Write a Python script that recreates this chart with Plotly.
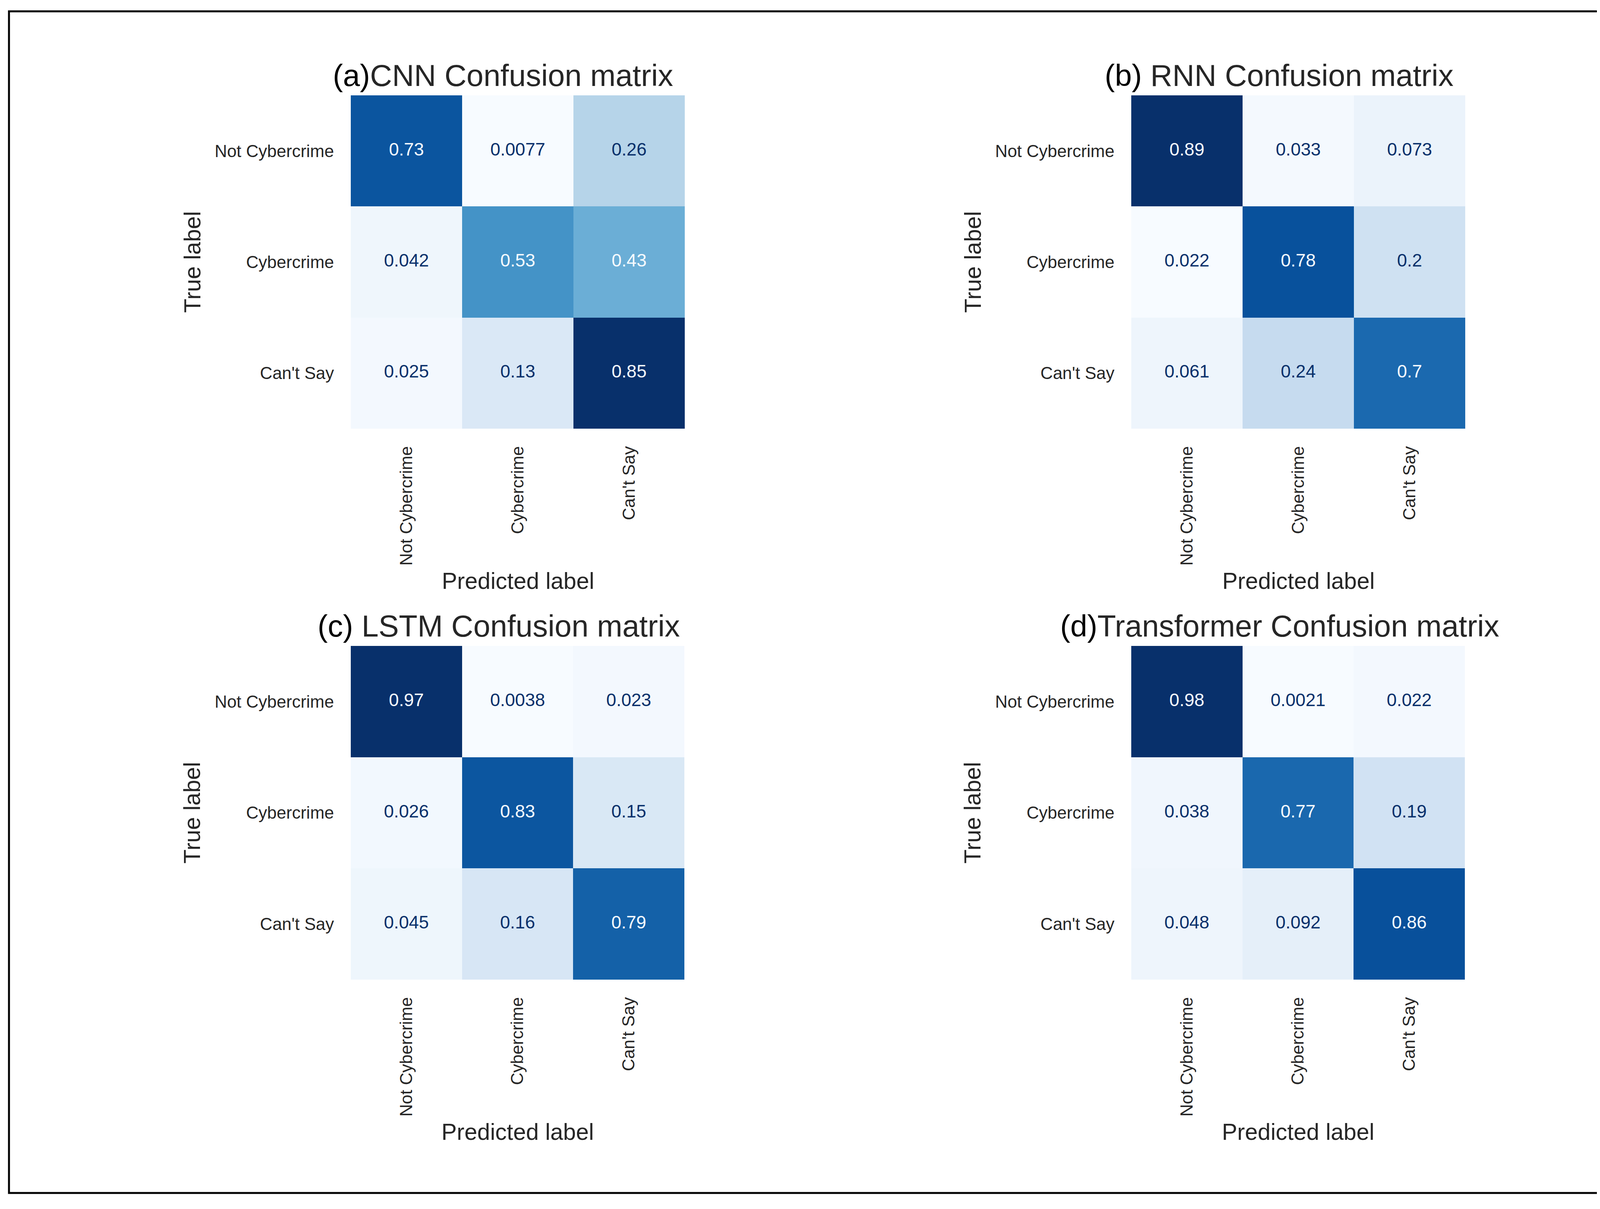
import plotly.graph_objects as go

W, H = 4325, 3094
OFFSET = 8  # page body margin
FONT = "Liberation Sans, Arial, sans-serif"
TEXT_GRAY = "#262626"

# ---------------- data ----------------
labels = ["Not Cybercrime", "Cybercrime", "Can't Say"]
prefixes = ["(a)", "(b) ", "(c) ", "(d)"]
titles = ["CNN Confusion matrix", "RNN Confusion matrix",
          "LSTM Confusion matrix", "Transformer Confusion matrix"]
cnn = [[0.73, 0.0077, 0.26],
       [0.042, 0.53, 0.43],
       [0.025, 0.13, 0.85]]
rnn = [[0.89, 0.033, 0.073],
       [0.022, 0.78, 0.2],
       [0.061, 0.24, 0.7]]
lstm = [[0.97, 0.0038, 0.023],
        [0.026, 0.83, 0.15],
        [0.045, 0.16, 0.79]]
transformer = [[0.98, 0.0021, 0.022],
               [0.038, 0.77, 0.19],
               [0.048, 0.092, 0.86]]
x_title = "Predicted label"
y_title = "True label"

matrices = [cnn, rnn, lstm, transformer]

# matplotlib / ColorBrewer "Blues"
blues = ["#f7fbff", "#deebf7", "#c6dbef", "#9ecae1", "#6baed6",
         "#4292c6", "#2171b5", "#08519c", "#08306b"]
colorscale = [[i / (len(blues) - 1), c] for i, c in enumerate(blues)]

# ---------------- layout geometry (pixels) ----------------
# heatmap boxes: (left, right, top, bottom), title centre x
boxes = [(898, 1753, 244, 1097), (2896, 3751, 244, 1097),
         (898, 1752, 1653, 2507), (2896, 3750, 1653, 2507)]
title_cx = [1287, 3274, 1277, 3276]


def px_x(v):
    return (v - OFFSET) / W


def px_y(v):
    return 1 - (v - OFFSET) / H


fig = go.Figure()
annotations = []

for i, (mat, box) in enumerate(zip(matrices, boxes)):
    n = "" if i == 0 else str(i + 1)
    xa, ya = "x" + n, "y" + n
    flat = [v for row in mat for v in row]
    zmin, zmax = min(flat), max(flat)
    thresh = (zmin + zmax) / 2

    fig.add_trace(go.Heatmap(
        z=mat, x=labels, y=labels, colorscale=colorscale,
        zmin=zmin, zmax=zmax, showscale=False, xaxis=xa, yaxis=ya,
        hoverinfo="skip"))

    tx, ty, tt, tc = [], [], [], []
    for r, row in enumerate(mat):
        for c, v in enumerate(row):
            tx.append(labels[c])
            ty.append(labels[r])
            tt.append(format(v, ".2g"))
            tc.append(blues[0] if v >= thresh else blues[-1])
    fig.add_trace(go.Scatter(
        x=tx, y=ty, text=tt, mode="text", xaxis=xa, yaxis=ya,
        textfont=dict(size=46, color=tc, family=FONT),
        hoverinfo="skip", showlegend=False))

    left, right, top, bottom = box
    fig.layout["xaxis" + n] = dict(
        domain=[px_x(left), px_x(right)], anchor=ya,
        type="category", categoryorder="array", categoryarray=labels,
        range=[-0.5, 2.5], showgrid=False, zeroline=False, showline=False,
        ticks="", tickangle=-90, ticklabelstandoff=35,
        tickfont=dict(size=44, color=TEXT_GRAY, family=FONT))
    fig.layout["yaxis" + n] = dict(
        domain=[px_y(bottom), px_y(top)], anchor=xa,
        type="category", categoryorder="array", categoryarray=labels,
        range=[2.5, -0.5], showgrid=False, zeroline=False, showline=False,
        ticks="", ticklabelstandoff=42,
        tickfont=dict(size=44, color=TEXT_GRAY, family=FONT))

    # panel title
    annotations.append(dict(
        x=px_x(title_cx[i]), y=px_y(top - 51), xref="paper", yref="paper",
        xanchor="center", yanchor="middle", showarrow=False,
        text="<span style='color:#000000'>" + prefixes[i] + "</span>" + titles[i],
        font=dict(size=78, color=TEXT_GRAY, family=FONT)))
    # predicted label
    annotations.append(dict(
        x=px_x((left + right) / 2), y=px_y(bottom + 390), xref="paper", yref="paper",
        xanchor="center", yanchor="middle", showarrow=False, text=x_title,
        font=dict(size=59, color=TEXT_GRAY, family=FONT)))
    # true label
    annotations.append(dict(
        x=px_x(left - 406), y=px_y((top + bottom) / 2), xref="paper", yref="paper",
        xanchor="center", yanchor="middle", showarrow=False, text=y_title,
        textangle=-90, font=dict(size=59, color=TEXT_GRAY, family=FONT)))

fig.update_layout(
    width=W, height=H, margin=dict(l=0, r=0, t=0, b=0),
    paper_bgcolor="white", plot_bgcolor="white", showlegend=False,
    annotations=annotations,
    shapes=[dict(type="rect", xref="paper", yref="paper",
                 x0=px_x(23), x1=px_x(4299), y0=px_y(3053), y1=px_y(29),
                 line=dict(color="black", width=5), fillcolor="rgba(0,0,0,0)")])

fig.write_html("out.html")
